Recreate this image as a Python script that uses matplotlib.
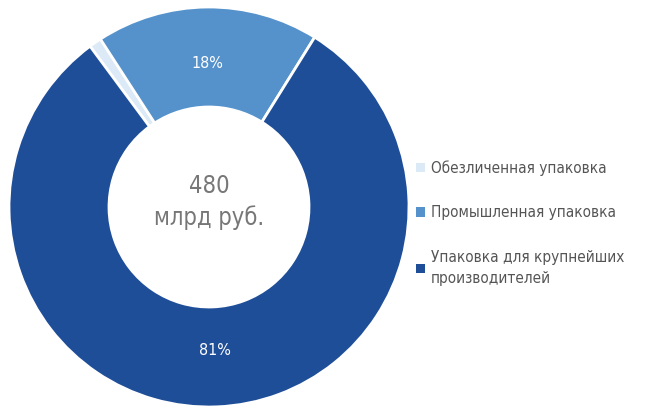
import matplotlib.pyplot as plt
from matplotlib.patches import Patch

labels = ['Обезличенная упаковка', 'Промышленная упаковка',
          'Упаковка для крупнейших\nпроизводителей']
shares = [1, 18, 81]
colors = ['#dce9f7', '#5592cb', '#1f4e99']
total_text = '480\nмлрд руб.'

plt.rcParams['font.family'] = ['DejaVu Sans']
plt.rcParams['font.stretch'] = 'condensed'

fig = plt.figure(figsize=(6.49, 4.13), dpi=100)
ax = fig.add_axes([9 / 649, 6 / 413, 400 / 649, 400 / 413])

wedges, texts, autotexts = ax.pie(
    shares, colors=colors, startangle=126.5, counterclock=False,
    radius=1.0, pctdistance=0.72,
    autopct=lambda p: f'{p:.0f}%' if p > 5 else '',
    wedgeprops=dict(width=0.5, edgecolor='white', linewidth=2),
    textprops=dict(color='white', fontsize=11.5))
ax.set_xlim(-1, 1)
ax.set_ylim(-1, 1)
ax.set_aspect('equal')

ax.text(0, 0.025, total_text, ha='center', va='center', fontsize=17,
        color='#777777', linespacing=1.35)

handles = [Patch(facecolor=c, edgecolor='none') for c in colors]
leg = fig.legend(handles, labels, loc='center left', bbox_to_anchor=(0.62, 0.46),
                 frameon=False, fontsize=11, labelcolor='#555555',
                 handlelength=0.55, handleheight=0.55, handletextpad=0.4,
                 labelspacing=1.95)
for t in leg.get_texts():
    t.set_linespacing(1.5)

fig.savefig('out.png', dpi=100)
